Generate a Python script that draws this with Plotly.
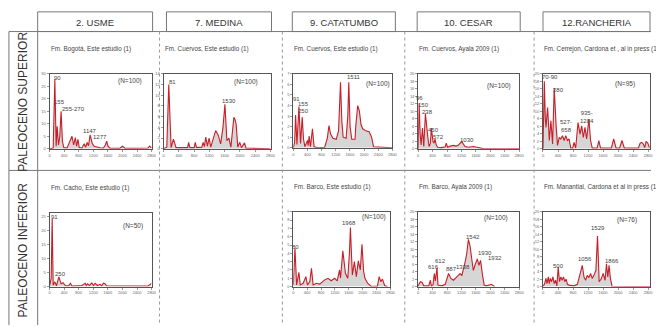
import plotly.graph_objects as go

W, H = 656, 327

# ---------------- DATA (age in Ma, relative probability) ----------------
# Paleoceno superior
usme_sup_age = [0, 100, 145, 181, 208, 245, 281, 317, 353, 390, 480, 553, 616, 661, 707, 743, 779, 815, 888, 951, 988, 1033, 1069, 1114, 1169, 1223, 1296, 1386, 1477, 1531, 1567, 1604, 1658, 1930, 2002, 2066, 2473, 2700, 2745, 2800]
usme_sup_val = [0, 0.3, 28, 1, 9, 1.5, 5, 15, 3, 0.5, 0.3, 2.5, 5, 1.5, 4.5, 1, 3.8, 0.5, 0.3, 2, 0.6, 2.5, 1.2, 5.6, 2.2, 1, 0.7, 0.4, 0.3, 1.5, 3, 1, 0.2, 0.2, 1.0, 0.2, 0.2, 0.3, 1.0, 0.4]

medina_sup_age = [0, 86, 138, 199, 259, 329, 631, 657, 691, 804, 830, 864, 1003, 1037, 1071, 1106, 1149, 1193, 1236, 1304, 1365, 1434, 1495, 1556, 1607, 1659, 1711, 1763, 1815, 1841, 1875, 1901, 1944, 1996, 2040, 2118, 2160, 2489, 2800]
medina_sup_val = [0, 0.3, 12, 0.2, 1.8, 0.2, 0.2, 1.2, 0.2, 0.2, 1.2, 0.2, 0.3, 1.2, 0.4, 2.2, 0.5, 2, 0.3, 2, 3.4, 2.5, 0.9, 4, 8.3, 1.5, 2, 0.3, 4, 5.9, 5.4, 4.5, 0.3, 1.2, 0.2, 1.1, 0.1, 0, 0]

catatumbo_sup_age = [0, 37, 65, 103, 159, 205, 252, 289, 327, 401, 420, 448, 485, 541, 588, 700, 887, 961, 1008, 1054, 1120, 1213, 1278, 1334, 1372, 1409, 1493, 1540, 1568, 1605, 1652, 1745, 1764, 1820, 1867, 1913, 1960, 2053, 2147, 2212, 2268, 2800]
catatumbo_sup_val = [0, 0.5, 3.1, 0.3, 3.9, 0.4, 2.9, 0.8, 0.1, 0.7, 0.2, 1.1, 0.1, 1.8, 0.1, 0, 0.05, 0.9, 2.1, 1.3, 0.9, 0.8, 1.6, 6.2, 2.5, 1.0, 0.9, 3, 6.2, 2, 0.8, 0.8, 2, 4.0, 3.5, 2.2, 1.8, 1.6, 1.5, 1.0, 0.1, 0]

cesar_sup_age = [0, 9, 27, 55, 82, 119, 156, 201, 238, 265, 302, 339, 366, 412, 439, 467, 503, 540, 659, 750, 778, 814, 888, 979, 1052, 1116, 1208, 1299, 1391, 1528, 1665, 1802, 2800]
cesar_sup_val = [0, 3, 12.1, 4, 1, 5.5, 0.6, 9.4, 5, 3.3, 0.6, 1.5, 5.5, 1.9, 1.5, 2.6, 1.0, 0.4, 0.3, 0.5, 1.5, 0.4, 0.7, 0.9, 0.7, 1.0, 1.9, 0.6, 0.4, 0.6, 0.35, 0.05, 0]

rancheria_sup_age = [0, 18, 35, 62, 79, 106, 123, 150, 167, 211, 255, 299, 326, 352, 387, 431, 475, 519, 563, 607, 651, 695, 739, 792, 827, 871, 933, 986, 1030, 1074, 1118, 1162, 1223, 1267, 1311, 1443, 1487, 1531, 1822, 1883, 1945, 2042, 2103, 2165, 2543, 2587, 2631, 2675, 2710, 2746, 2790, 2834]
rancheria_sup_val = [0, 10, 18, 8, 5.7, 9, 11, 6, 2.2, 7.5, 1.3, 16.2, 10, 5.7, 0.9, 3, 2.6, 3.5, 2.2, 3.5, 2.2, 2.6, 0.2, 0.2, 1.7, 0.2, 7.0, 3.9, 6.1, 3, 5.7, 2.6, 7.9, 2.2, 0.2, 0.2, 2.2, 0.2, 0.2, 2.6, 0.2, 0.2, 2.2, 0.2, 0.2, 1.5, 1.7, 1.2, 0.3, 2, 1.5, 0.3]

# Paleoceno inferior
usme_inf_age = [0, 45, 72, 100, 145, 190, 254, 317, 371, 435, 525, 571, 616, 797, 888, 978, 1006, 1042, 1096, 1160, 1205, 1250, 1314, 1386, 1431, 1477, 1522, 1567, 1930, 2292, 2700, 2763, 2790]
usme_inf_val = [0.2, 3, 24.4, 0.5, 1.7, 0.3, 3.5, 1, 1.4, 0.3, 0.3, 1.2, 0.2, 0.3, 0.4, 1.2, 0.4, 1, 0.4, 1.3, 0.4, 1.2, 0.4, 0.8, 0.3, 1.2, 1, 0.3, 0.2, 0.2, 0.2, 0.8, 1.2]

catatumbo_inf_age = [0, 29, 48, 76, 95, 162, 200, 286, 362, 409, 476, 524, 571, 666, 762, 904, 1000, 1095, 1190, 1266, 1333, 1361, 1428, 1504, 1571, 1618, 1647, 1676, 1704, 1761, 1818, 1875, 1932, 1980, 2028, 2066, 2142, 2237, 2428, 2475, 2523, 2570, 2637, 2713]
catatumbo_inf_val = [0.2, 2.5, 4.6, 2, 0.2, 1.7, 0.2, 0.4, 1.2, 0.2, 0.6, 2.2, 0.2, 0.4, 0.3, 0.8, 1, 0.7, 1, 0.7, 2, 1, 4.3, 1.6, 1, 4, 7.1, 4, 1.4, 3, 1.2, 3.1, 2, 5.1, 1.8, 1, 0.4, 0.05, 0.05, 1.2, 0.6, 0.9, 0.1, 0]

cesar_inf_age = [0, 18, 64, 110, 156, 293, 339, 366, 412, 448, 476, 522, 549, 659, 750, 796, 842, 906, 979, 1071, 1162, 1208, 1254, 1299, 1345, 1391, 1437, 1482, 1528, 1574, 1638, 1684, 1729, 1784, 1830, 1894, 2031, 2123]
cesar_inf_val = [0, 0.6, 1.3, 1.1, 0.2, 0.2, 1.7, 0.2, 0.5, 3.5, 1.5, 5, 0.4, 0.2, 0.6, 2, 3.5, 2.2, 1.7, 2.6, 3.5, 2.9, 4.5, 6.5, 8.7, 12.6, 10.9, 7, 4.3, 5.7, 7.4, 5.7, 7, 3, 0.4, 0.2, 0.6, 0]

rancheria_inf_age = [0, 35, 79, 106, 141, 167, 194, 229, 264, 299, 334, 370, 405, 440, 475, 510, 546, 581, 616, 651, 695, 827, 915, 986, 1047, 1091, 1135, 1179, 1223, 1267, 1311, 1355, 1408, 1452, 1496, 1549, 1602, 1654, 1690, 1725, 1760, 1795, 1839, 2850]
rancheria_inf_val = [0.2, 0.5, 2.2, 0.8, 2.6, 0.8, 2.2, 1.3, 2.6, 0.8, 1.7, 0.2, 5.2, 1.3, 2.6, 1.7, 2.6, 1.3, 2, 0.6, 0.4, 0.2, 0.6, 3.5, 5.7, 2.6, 1.7, 3, 2.4, 3.5, 2.2, 3, 4.3, 13.5, 1.3, 2, 3.5, 1.7, 6.1, 2.6, 5.7, 2.2, 0.1, 0]

# Peak labels (text, age, value)
usme_sup_lbl = ["90", "155", "255-270", "1147", "1277"]
usme_sup_lbl_age = [226, 280, 661, 1115, 1387]
usme_sup_lbl_val = [28.4, 18.7, 16, 7.1, 4.9]
medina_sup_lbl = ["81", "1530"]
medina_sup_lbl_age = [225, 1711]
medina_sup_lbl_val = [12.4, 9]
catatumbo_sup_lbl = ["91", "155", "250", "1511"]
catatumbo_sup_lbl_age = [93, 280, 280, 1727]
catatumbo_sup_lbl_val = [4.6, 4.1, 3.5, 6.7]
cesar_sup_lbl = ["96", "150", "238", "450", "572", "1030"]
cesar_sup_lbl_age = [46, 156, 247, 431, 568, 1345]
cesar_sup_lbl_val = [13.5, 11.8, 9.8, 4.9, 3.2, 2.4]
rancheria_sup_lbl = ["70-90", "280", "527-<br>658", "935-<br>1284"]
rancheria_sup_lbl_age = [193, 404, 607, 1179]
rancheria_sup_lbl_val = [19.2, 15.7, 6.0, 8.4]
usme_inf_lbl = ["91", "250"]
usme_inf_lbl_age = [136, 299]
usme_inf_lbl_val = [24.8, 4.6]
catatumbo_inf_lbl = ["80", "1968"]
catatumbo_inf_lbl_age = [66, 1615]
catatumbo_inf_lbl_val = [4.8, 7.6]
cesar_inf_lbl = ["616", "612", "887", "1338", "1542", "1930", "1932"]
cesar_inf_lbl_age = [412, 631, 933, 1254, 1529, 1847, 2122]
cesar_inf_lbl_val = [5.2, 6.9, 4.7, 5.3, 13.2, 9.1, 7.6]
rancheria_inf_lbl = ["500", "1056", "1529", "1866"]
rancheria_inf_lbl_age = [414, 1117, 1470, 1839]
rancheria_inf_lbl_val = [5.6, 7.4, 15.7, 6.9]

columns = ["2. USME", "7. MEDINA", "9. CATATUMBO", "10. CESAR", "12.RANCHERIA"]
rows = ["PALEOCENO SUPERIOR", "PALEOCENO INFERIOR"]
x_ticks = [0, 400, 800, 1200, 1600, 2000, 2400, 2800]

# ---------------- LAYOUT / STYLE ----------------
def fx(p):
    return p / W

def fy(p):
    return 1 - p / H

panels = [
    dict(age=usme_sup_age, val=usme_sup_val, box=(49, 152, 72, 148), xr=2800, yr=30, dy=5,
         title="Fm. Bogotá, Este estudio (1)", n="(N=100)", n_pos=(2200, 27.2),
         lbl=(usme_sup_lbl, usme_sup_lbl_age, usme_sup_lbl_val)),
    dict(age=medina_sup_age, val=medina_sup_val, box=(164, 272, 72, 148), xr=2800, yr=14, dy=2,
         title="Fm. Cuervos, Este estudio (1)", n="(N=100)", n_pos=(2150, 12.5),
         lbl=(medina_sup_lbl, medina_sup_lbl_age, medina_sup_lbl_val)),
    dict(age=catatumbo_sup_age, val=catatumbo_sup_val, box=(295, 395, 72, 147), xr=2800, yr=7, dy=1,
         title="Fm. Cuervos, Este estudio (1)", n="(N=100)", n_pos=(2380, 6.0),
         lbl=(catatumbo_sup_lbl, catatumbo_sup_lbl_age, catatumbo_sup_lbl_val)),
    dict(age=cesar_sup_age, val=cesar_sup_val, box=(421, 523, 72, 148), xr=2800, yr=20, dy=2,
         title="Fm. Cuervos, Ayala 2009 (1)", n="(N=100)", n_pos=(2243, 16.8),
         lbl=(cesar_sup_lbl, cesar_sup_lbl_age, cesar_sup_lbl_val)),
    dict(age=rancheria_sup_age, val=rancheria_sup_val, box=(547, 655, 72, 148), xr=2850, yr=20, dy=2,
         title="Fm. Cerrejon, Cardona et , al in press (1", n="(N=95)", n_pos=(2190, 17.2),
         lbl=(rancheria_sup_lbl, rancheria_sup_lbl_age, rancheria_sup_lbl_val)),
    dict(age=usme_inf_age, val=usme_inf_val, box=(49, 152, 213, 288), xr=2800, yr=26.5, dy=5,
         title="Fm. Cacho, Este estudio (1)", n="(N=50)", n_pos=(2290, 21.7),
         lbl=(usme_inf_lbl, usme_inf_lbl_age, usme_inf_lbl_val)),
    dict(age=catatumbo_inf_age, val=catatumbo_inf_val, box=(295, 393, 212, 288), xr=2800, yr=9, dy=1,
         title="Fm. Barco, Este estudio (1)", n="(N=100)", n_pos=(2333, 8.4),
         lbl=(catatumbo_inf_lbl, catatumbo_inf_lbl_age, catatumbo_inf_lbl_val)),
    dict(age=cesar_inf_age, val=cesar_inf_val, box=(421, 523, 212, 288), xr=2800, yr=20, dy=2,
         title="Fm. Barco, Ayala 2009 (1)", n="(N=100)", n_pos=(2169, 18.3),
         lbl=(cesar_inf_lbl, cesar_inf_lbl_age, cesar_inf_lbl_val)),
    dict(age=rancheria_inf_age, val=rancheria_inf_val, box=(547, 655, 212, 288), xr=2850, yr=20, dy=2,
         title="Fm. Manantial, Cardona et al in press (1", n="(N=76)", n_pos=(2250, 17.9),
         lbl=(rancheria_inf_lbl, rancheria_inf_lbl_age, rancheria_inf_lbl_val)),
]

FONT = "Liberation Sans, Arial, sans-serif"
RED = "#c81e28"
TXT = "#444444"

fig = go.Figure()
layout = dict(width=W, height=H, margin=dict(l=0, r=0, t=0, b=0),
              paper_bgcolor="white", plot_bgcolor="white", showlegend=False,
              font=dict(family=FONT, color=TXT))
annotations = []
shapes = []

for i, p in enumerate(panels, start=1):
    xa = "x" if i == 1 else f"x{i}"
    ya = "y" if i == 1 else f"y{i}"
    x0, x1, y0, y1 = p["box"]
    fig.add_trace(go.Scatter(x=p["age"], y=p["val"], mode="lines",
                             line=dict(color=RED, width=1.1),
                             fill="tozeroy", fillcolor="#d6d6d6",
                             xaxis=xa, yaxis=ya, hoverinfo="skip"))
    nticks_y = [k * p["dy"] for k in range(int(p["yr"] // p["dy"]) + 1)]
    layout["xaxis" if i == 1 else f"xaxis{i}"] = dict(
        domain=[fx(x0), fx(x1)], range=[0, p["xr"]], anchor=ya,
        showline=True, mirror=True, linecolor="#555", linewidth=1,
        showgrid=False, zeroline=False, ticks="outside", ticklen=2, tickwidth=0.6,
        tickcolor="#555", tickvals=x_ticks, tickangle=0,
        tickfont=dict(size=4, color="#666"))
    layout["yaxis" if i == 1 else f"yaxis{i}"] = dict(
        domain=[fy(y1), fy(y0)], range=[0, p["yr"]], anchor=xa,
        showline=True, mirror=True, linecolor="#555", linewidth=1,
        showgrid=False, zeroline=False, ticks="outside", ticklen=2, tickwidth=0.6,
        tickcolor="#555", tickvals=nticks_y,
        tickfont=dict(size=4, color="#666"))
    # panel title
    annotations.append(dict(x=fx(x0 - 1), y=fy(y0 - 25), xref="paper", yref="paper",
                            text=p["title"], showarrow=False, xanchor="left", yanchor="middle",
                            font=dict(size=6.3, color=TXT)))
    # N
    annotations.append(dict(x=p["n_pos"][0], y=p["n_pos"][1], xref=xa, yref=ya,
                            text=p["n"], showarrow=False, xanchor="center", yanchor="middle",
                            font=dict(size=6.5, color=TXT)))
    # peak labels
    for t, a, v in zip(*p["lbl"]):
        annotations.append(dict(x=a, y=v, xref=xa, yref=ya, text=t, showarrow=False,
                                xanchor="center", yanchor="middle",
                                font=dict(size=6, color=TXT)))

# header boxes
header_boxes = [(37, 153), (167, 273), (294, 398), (420, 524), (547, 655)]
for (hx0, hx1), name in zip(header_boxes, columns):
    shapes.append(dict(type="rect", xref="paper", yref="paper",
                       x0=fx(hx0), x1=fx(hx1), y0=fy(29), y1=fy(9),
                       line=dict(color="#777", width=1), fillcolor="white"))
    annotations.append(dict(x=fx((hx0 + hx1) / 2), y=fy(19.5), xref="paper", yref="paper",
                            text=name, showarrow=False, xanchor="center", yanchor="middle",
                            font=dict(size=9.5, color="#333")))

# frame lines
shapes.append(dict(type="line", xref="paper", yref="paper", x0=fx(8), x1=1, y0=fy(29), y1=fy(29),
                   line=dict(color="#777", width=1)))
shapes.append(dict(type="line", xref="paper", yref="paper", x0=fx(8), x1=1, y0=fy(170), y1=fy(170),
                   line=dict(color="#777", width=1)))
for vx in (8, 37):
    shapes.append(dict(type="line", xref="paper", yref="paper", x0=fx(vx), x1=fx(vx), y0=fy(29), y1=0,
                       line=dict(color="#777", width=1)))
for vx in (160, 284, 407.5, 538):
    shapes.append(dict(type="line", xref="paper", yref="paper", x0=fx(vx), x1=fx(vx), y0=fy(29), y1=0,
                       line=dict(color="#999", width=1, dash="dot")))

# row labels
for name, cy in zip(rows, (100, 251)):
    annotations.append(dict(x=fx(22.5), y=fy(cy), xref="paper", yref="paper", text=name,
                            showarrow=False, textangle=-90, xanchor="center", yanchor="middle",
                            font=dict(size=12, color="#333")))

layout["annotations"] = annotations
layout["shapes"] = shapes
fig.update_layout(**layout)
fig.write_html("out.html", config={"displayModeBar": False, "staticPlot": True},
               post_script="document.body.style.margin='0px';document.body.style.overflow='hidden';")
